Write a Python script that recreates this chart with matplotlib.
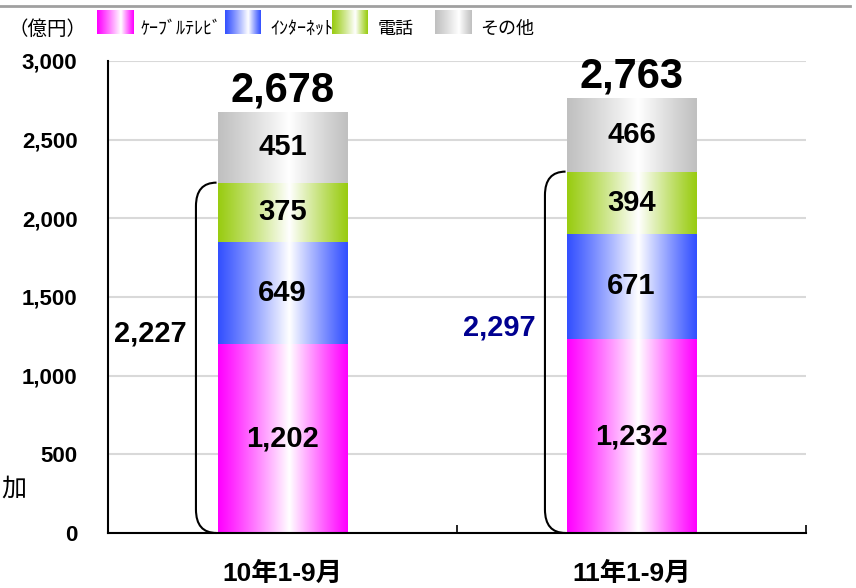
import numpy as np
import matplotlib
matplotlib.use("Agg")
import matplotlib.pyplot as plt
from matplotlib.colors import to_rgb
from matplotlib.path import Path
from matplotlib.patches import PathPatch
from matplotlib.lines import Line2D

plt.rcParams['font.family'] = ['Liberation Sans', 'Noto Sans CJK JP', 'DejaVu Sans']

# ---- data -------------------------------------------------------------
periods = ['10年1-9月', '11年1-9月']
series_names = ['ｹｰﾌﾞﾙﾃﾚﾋﾞ', 'ｲﾝﾀｰﾈｯﾄ', '電話', 'その他']
cable_tv = [1202, 1232]
internet = [649, 671]
telephone = [375, 394]
other = [451, 466]
core_totals = [2227, 2297]     # cable + internet + telephone
grand_totals = [2678, 2763]
y_ticks = [0, 500, 1000, 1500, 2000, 2500, 3000]
y_tick_labels = ['0', '500', '1,000', '1,500', '2,000', '2,500', '3,000']

series_values = [cable_tv, internet, telephone, other]
series_colors = ['#FF00FF', '#3350FF', '#99CC11', '#C0C0C0']
core_label_colors = ['black', '#000090']

W, H = 856, 588
fig = plt.figure(figsize=(W / 100, H / 100), dpi=100)


def px_rect(x0, y0, x1, y1):
    """pixel box (top-left origin) -> figure fraction rect"""
    return [x0 / W, 1 - y1 / H, (x1 - x0) / W, (y1 - y0) / H]


def gradient_image(color, n=256, mid=0.55):
    c = np.array(to_rgb(color))
    t = np.linspace(0, 1, n)
    w = np.where(t < mid, t / mid, (1 - t) / (1 - mid))
    w = np.clip(w, 0, 1) ** 1.1
    img = c[None, :] * (1 - w[:, None]) + w[:, None] * 1.0
    return img[None, :, :]


ax = fig.add_axes(px_rect(108, 61, 806, 533))
x = np.arange(len(periods))
bar_w = 0.37

ax.set_xlim(-0.5, len(periods) - 0.5)
ax.set_ylim(0, 3000)

bottoms = np.zeros(len(periods))
for vals, col in zip(series_values, series_colors):
    bars = ax.bar(x, vals, bar_w, bottom=bottoms, color='none',
                  edgecolor='none', zorder=3)
    for rect, v in zip(bars, vals):
        x0, y0 = rect.get_x(), rect.get_y()
        ax.imshow(gradient_image(col), extent=[x0, x0 + rect.get_width(), y0, y0 + v],
                  aspect='auto', interpolation='bilinear', zorder=3)
        ax.text(x0 + rect.get_width() / 2, y0 + v / 2, f'{v:,}',
                ha='center', va='center', fontsize=21, fontweight='bold', zorder=5)
    bottoms += np.array(vals)

# totals above each stack
for xi, tot in zip(x, grand_totals):
    ax.annotate(f'{tot:,}', (xi, tot), xytext=(0, 1), textcoords='offset points',
                ha='center', va='bottom', fontsize=30, fontweight='bold', zorder=5)

# brackets spanning cable + internet + telephone, with their sums
for xi, core, lc in zip(x, core_totals, core_label_colors):
    left = xi - bar_w / 2
    xv = left - 0.063
    xe = left - 0.004
    ry = 150
    verts = [(xe, core), (xv, core), (xv, core - ry),
             (xv, ry), (xv, 0), (xe, 0)]
    codes = [Path.MOVETO, Path.CURVE3, Path.CURVE3,
             Path.LINETO, Path.CURVE3, Path.CURVE3]
    ax.add_patch(PathPatch(Path(verts, codes), fill=False, lw=1.5,
                           edgecolor='black', zorder=4, clip_on=False))
    ax.text(xi - 0.38, core * 0.57, f'{core:,}', ha='center', va='center',
            fontsize=21, fontweight='bold', color=lc, zorder=5)

# axes styling
ax.set_yticks(y_ticks)
ax.set_yticklabels(y_tick_labels, fontsize=16, fontweight='bold')
ax.tick_params(axis='y', length=0, pad=22)
ax.set_xticks(x)
ax.set_xticklabels(periods, fontsize=19, fontweight='bold')
ax.tick_params(axis='x', which='major', length=0, pad=21)
ax.set_xticks(np.arange(-0.5, len(periods)), minor=True)
ax.tick_params(axis='x', which='minor', direction='in', length=6, width=1.2)
ax.grid(axis='y', color='#D9D9D9', lw=1.5, zorder=0)
ax.set_axisbelow(True)
for s in ['top', 'right']:
    ax.spines[s].set_visible(False)
for s in ['left', 'bottom']:
    ax.spines[s].set_linewidth(1.5)
    ax.spines[s].set_zorder(6)

# legend row along the top
fig.text(8 / W, 1 - 29 / H, '（億円）', fontsize=14, va='center',
         family=['Noto Sans CJK JP'])
legend_boxes = [(97, 134, 141), (225, 261, 270), (332, 368, 378), (435, 472, 480)]
for (p0, p1, tx), name, col in zip(legend_boxes, series_names, series_colors):
    lax = fig.add_axes(px_rect(p0, 10, p1, 34))
    lax.imshow(gradient_image(col, mid=0.65), aspect='auto', interpolation='bilinear')
    lax.set_axis_off()
    fig.text(tx / W, 1 - 29 / H, name, fontsize=13, va='center',
             family=['Noto Sans CJK JP'])

# thin rule at the very top
fig.add_artist(Line2D([0, 850 / W], [1 - 6 / H, 1 - 6 / H], color='#A0A0A0', lw=2))

# trailing character at left edge
fig.text(1 / W, 1 - 489 / H, '加', fontsize=18, ha='left', va='center',
         family=['Noto Sans CJK JP'])

fig.savefig('out.png', dpi=100)
